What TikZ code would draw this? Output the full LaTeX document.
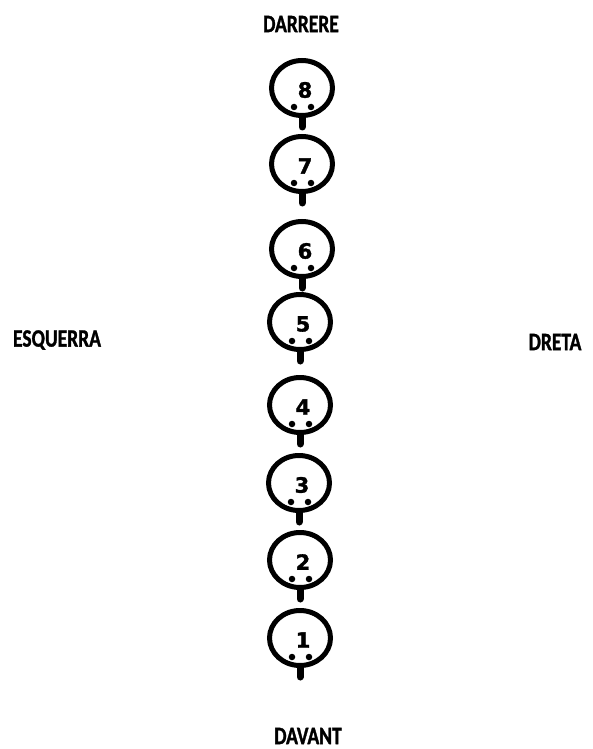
\documentclass[tikz,border=0pt]{standalone}
\usepackage{fontspec}
\usetikzlibrary{shapes.geometric}
\newfontfamily\labelfont{Carlito}[UprightFont=* Bold, FakeStretch=0.78, FakeBold=1.2]
\newfontfamily\numfont{DejaVu Sans}[UprightFont=* Bold, FakeBold=1.5]
\tikzset{
  seat/.style={ellipse, draw=black, line width=5pt,
    minimum width=61pt, minimum height=55pt, inner sep=0pt},
  seatnum/.style={font=\numfont\fontsize{21}{21}\selectfont, inner sep=0pt},
  seatdot/.style={circle, fill=black, minimum size=6.5pt, inner sep=0pt},
  stem/.style={line width=7pt, line cap=round},
  sidelabel/.style={font=\labelfont\fontsize{25}{25}\selectfont, inner sep=0pt}
}
\begin{document}
\begin{tikzpicture}[x=1pt, y=-1pt]
  \useasboundingbox (0,0) rectangle (593,749);
  % sides of the bus
  \node[sidelabel] (back) at (301,24) {DARRERE};
  \node[sidelabel] (front) at (308,736) {DAVANT};
  \node[sidelabel] (left) at (57,340) {ESQUERRA};
  \node[sidelabel] (right) at (555,342) {DRETA};
  % seats
  \foreach \n/\x/\y in {8/302/88, 7/302/164, 6/302/249, 5/300/322,
                        4/300/405, 3/299/483, 2/300/560, 1/300/638}{
    \node[seat] (seat\n) at (\x,\y) {};
    \node[seatnum] (num\n) at ([shift={(3,2)}]seat\n.center) {\n};
    \node[seatdot] (dotl\n) at ([shift={(-8,19)}]seat\n.center) {};
    \node[seatdot] (dotr\n) at ([shift={(9,19)}]seat\n.center) {};
    \draw[stem] (seat\n.south) -- ++(0,9);
  }
\end{tikzpicture}
\end{document}
